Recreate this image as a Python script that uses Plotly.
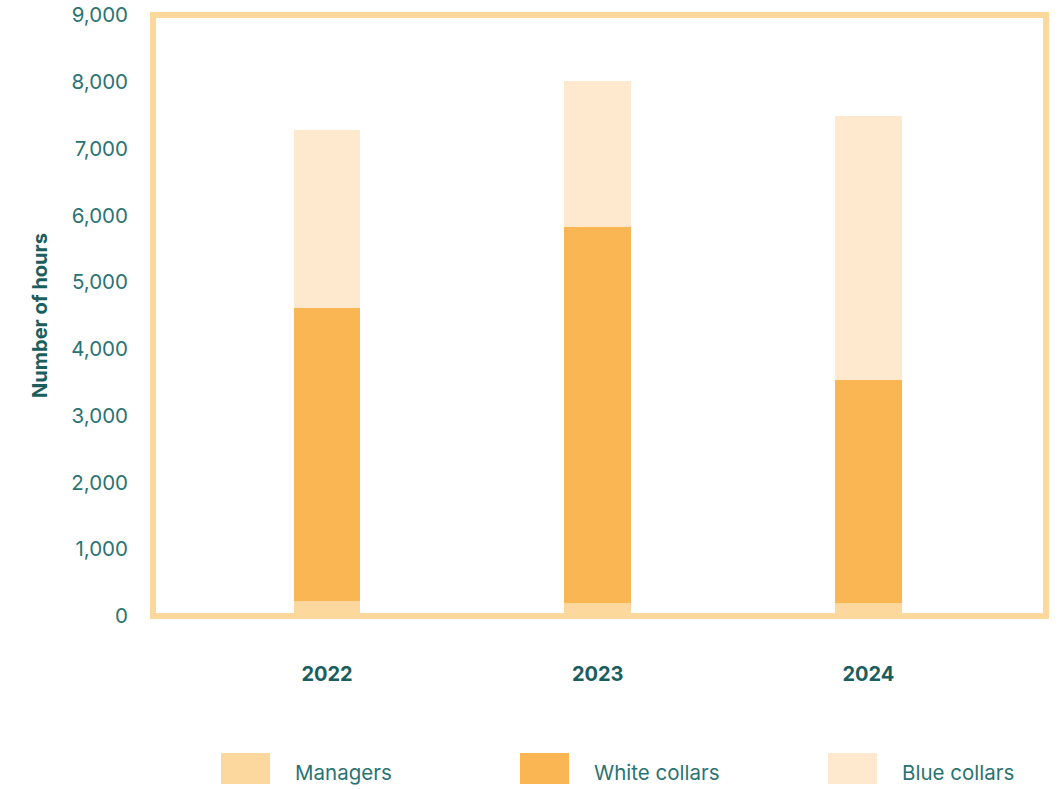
import plotly.graph_objects as go

years = ["2022", "2023", "2024"]
series_names = ["Managers", "White collars", "Blue collars"]
managers = [230, 200, 200]
white_collars = [4380, 5620, 3330]
blue_collars = [2670, 2190, 3960]
y_ticks = [0, 1000, 2000, 3000, 4000, 5000, 6000, 7000, 8000, 9000]

colors = ["#FDD89E", "#FAB652", "#FEE9CF"]
teal = "#2A7373"
teal_dark = "#1A5E5E"
font_family = "Inter, Lato, sans-serif"

fig = go.Figure()
for name, vals, col in zip(series_names, [managers, white_collars, blue_collars], colors):
    fig.add_trace(go.Bar(
        x=years, y=vals, name=name, marker=dict(color=col, line=dict(width=0)),
        width=0.247, showlegend=False,
    ))

fig.update_layout(
    barmode="stack",
    width=1059, height=789,
    margin=dict(l=153, r=13, t=15, b=173),
    plot_bgcolor="white", paper_bgcolor="white",
    font=dict(family=font_family, color=teal),
    xaxis=dict(
        type="category", range=[-0.643, 2.656], showgrid=False, showline=False,
        zeroline=False, ticks="", ticklabelstandoff=44, automargin=False,
        tickfont=dict(size=20, color=teal_dark, weight="bold"),
    ),
    yaxis=dict(
        range=[0, 9000], tickvals=y_ticks, tickformat=",", showgrid=False,
        zeroline=False, showline=False, ticks="", ticklabelstandoff=24,
        automargin=False,
        tickfont=dict(size=20.5, color=teal),
        title=dict(text="Number of hours", standoff=18,
                   font=dict(size=20, color=teal_dark, weight="bold")),
    ),
)

# plot frame drawn over the bars
fig.add_shape(type="rect", xref="paper", yref="paper", x0=0, x1=1, y0=0, y1=1,
              line=dict(color="#FDD89C", width=6), fillcolor="rgba(0,0,0,0)", layer="above")

# legend: wide swatches with labels below the chart
swatch_left = [221, 520, 828]
for name, col, px in zip(series_names, colors, swatch_left):
    fig.add_shape(type="rect", xref="paper", yref="paper",
                  x0=(px - 153) / 893, x1=(px + 49 - 153) / 893,
                  y0=-(784 - 616) / 601, y1=-(753 - 616) / 601,
                  line=dict(width=0), fillcolor=col)
    fig.add_annotation(xref="paper", yref="paper", x=(px + 72 - 153) / 893,
                       y=-(772 - 616) / 601, text=name, showarrow=False,
                       xanchor="left", yanchor="middle",
                       font=dict(size=20.5, color=teal))

fig.write_html("out.html")
